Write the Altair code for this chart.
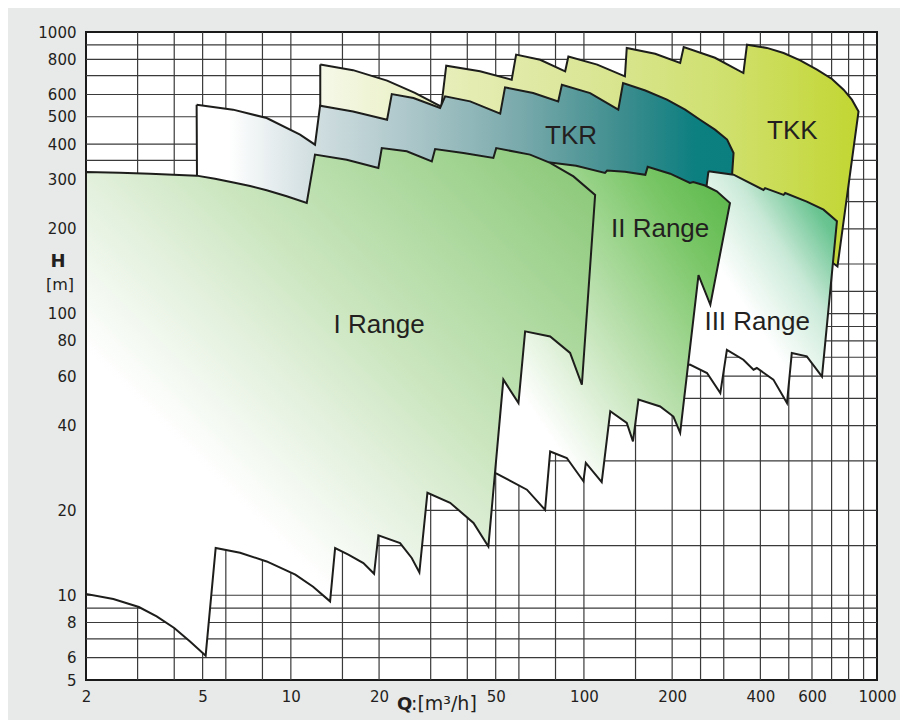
import altair as alt
import pandas as pd

# ---------------- data (Q in m3/h, H in m) ----------------
tkk_q = [12.6, 16.3, 21.3, 26.5, 32.6, 33.9, 44.2, 56.7, 58.7, 70.9, 86.3, 88.5, 111, 138, 140,
         175, 213, 219, 280, 350, 360, 421, 480, 547, 624, 702, 769, 821, 865, 733, 671, 323,
         12.6, 12.6]
tkk_h = [766, 732, 672, 608, 543, 759, 725, 677, 831, 797, 725, 819, 766, 696, 878,
         837, 776, 885, 810, 715, 901, 878, 842, 793, 735, 681, 624, 575, 522, 147, 158, 287,
         469, 766]

tkr_q = [4.77, 6.35, 8.27, 10.75, 12.09, 12.58, 16.3, 21.3, 22.1, 26.2, 32.3, 33.6, 40.9, 51.8,
         53.8, 67.1, 81.7, 84.1, 105, 131, 136, 162, 192, 221.5, 249, 280, 308, 324, 320, 303,
         4.79, 4.77]
tkr_h = [552, 530, 495, 432, 398, 547, 522, 488, 602, 583, 537, 591, 567, 513,
         636, 607, 567, 650, 607, 530, 659, 620, 575, 530, 488, 450, 415, 372, 307, 234,
         225, 552]

r1_q = [2.0, 2.61, 3.31, 4.77, 5.51, 6.37, 7.26, 8.27, 9.68, 11.33, 12.09, 15.51, 19.89, 20.43,
        24.86, 30.27, 31.06, 38.8, 49.1, 50.2, 65.5, 76.7, 92.1, 109.2, 98.4, 89.7, 76.7, 63.0,
        59.8, 53.1, 47.2, 42.0, 34.95, 29.24, 27.45, 25.85, 23.59, 19.89, 19.23, 17.68, 15.71,
        14.16, 13.61, 11.91, 10.36, 8.27, 6.71, 5.54, 5.12, 4.53, 4.00, 3.485, 3.03, 2.479,
        2.0, 2.0]
r1_h = [318, 316.5, 314, 309, 301, 292, 284, 274, 261, 247, 367, 352, 329, 387,
        377, 347, 384, 372, 357, 387, 367, 343, 307, 264, 55.9, 72.5, 83.0, 86.5,
        48.1, 58.3, 14.9, 18.05, 21.3, 23.1, 12.05, 13.56, 15.32, 16.31, 11.92, 13.01, 13.93,
        14.71, 9.51, 10.72, 11.83, 13.18, 14.16, 14.71, 6.10, 6.85, 7.65, 8.41, 9.08, 9.69,
        10.1, 318]

r2_q = [49.8, 49.8, 76.7, 94.1, 118, 120, 138, 162, 165, 197, 230, 236, 259, 284, 315, 270, 246,
        213, 202, 182, 153.5, 147, 140, 123, 115, 101.5, 99.6, 87.4, 76.7, 73.7, 63.9, 49.8]
r2_h = [27.2, 311, 344, 335, 316, 322, 319, 311, 332, 314, 291, 293, 285, 272, 247, 107.5, 137,
        37.7, 43.1, 46.8, 49.5, 35.2, 40.9, 45.0, 25.2, 29.5, 25.4, 30.7, 32.4, 20.1, 23.7, 27.2]

r3_q = [266, 324, 410, 415, 480, 486, 576, 657, 730, 649, 576, 512, 493, 443, 389, 379, 350,
        307.5, 292, 263, 230, 223, 261, 266]
r3_h = [320, 311.5, 275, 279, 264, 268, 250, 234, 213, 59.8, 70.5, 72.5, 48.1, 58.3, 64.1, 63.2,
        68.6, 74.4, 52.2, 61.5, 65.9, 65.3, 275, 320]

grid_q = [3, 4, 5, 6, 8, 10, 15, 20, 30, 40, 50, 60, 80, 100, 150, 200, 250, 300, 400, 500, 600,
          700, 800, 900]
grid_h = [6, 7, 8, 9, 10, 15, 20, 30, 40, 50, 60, 70, 80, 90, 100, 120, 150, 200, 250, 300, 350,
          400, 500, 600, 700, 800, 900]

q_labels = [2, 5, 10, 20, 50, 100, 200, 400, 600, 1000]
h_labels = [5, 6, 8, 10, 20, 40, 60, 80, 100, 200, 300, 400, 500, 600, 800, 1000]

names = ["I Range", "TKR", "TKK", "II Range", "III Range"]
name_q = [20.0, 90.4, 514, 182, 390]
name_h = [91.3, 428, 446, 199, 93.6]

# ---------------- encodings ----------------
LABEL_FONT = "DejaVu Sans"
X = alt.X("q:Q", title=None,
          scale=alt.Scale(type="log", domain=[2, 1000], nice=False),
          axis=alt.Axis(values=q_labels, grid=False, ticks=False, tickSize=0, domain=False,
                        labelFlush=False, labelOverlap=False, format="d", labelFont=LABEL_FONT,
                        labelFontSize=15, labelColor="#231f20", labelPadding=9))
Y = alt.Y("h:Q", title=None,
          scale=alt.Scale(type="log", domain=[5, 1000], nice=False),
          axis=alt.Axis(values=h_labels, grid=False, ticks=False, tickSize=0, domain=False,
                        labelFlush=False, labelOverlap=False, format="d", labelFont=LABEL_FONT,
                        labelFontSize=15, labelColor="#231f20", labelPadding=10))


def grad(stops, x1=0, y1=0, x2=1, y2=0):
    return {"gradient": "linear", "x1": x1, "y1": y1, "x2": x2, "y2": y2,
            "stops": [{"offset": o, "color": c} for o, c in stops]}


def region(q, h, fill):
    df = pd.DataFrame({"q": q, "h": h, "i": list(range(len(q)))})
    return alt.Chart(df).mark_line(fill=fill, stroke="#1d1d1b", strokeWidth=2,
                                   interpolate="linear").encode(
        x=X, y=Y, order=alt.Order("i:Q"))


tkk_fill = grad([(0, "#f5f8e8"), (0.25, "#e6edb6"), (0.5, "#dbe696"), (0.75, "#d0e06e"),
                 (1, "#c2d632")])
tkr_fill = grad([(0, "#ffffff"), (0.06, "#ffffff"), (0.2, "#d5e1e3"), (0.4, "#abc6c9"),
                 (0.6, "#7aaaac"), (0.8, "#3b8c8d"), (0.93, "#0c7f80"), (1, "#0b7e7f")])
r1_fill = grad([(0, "#ffffff"), (0.3, "#ffffff"), (0.45, "#e6f2e1"), (0.6, "#cbe6bf"),
                (0.8, "#a9d79a"), (1, "#86c673")], 0, 1, 1, 0)
r2_fill = grad([(0, "#ffffff"), (0.22, "#ffffff"), (0.5, "#bfe2b3"), (0.8, "#79c666"),
                (1, "#55b545")], 0, 1, 1, 0)
r3_fill = grad([(0, "#ffffff"), (0.4, "#ffffff"), (0.55, "#e0f3e8"), (0.65, "#c9e9d7"),
                (0.85, "#69c491"), (1, "#4cb87c")], 0, 1, 1, 0)

vgrid = alt.Chart(pd.DataFrame({"q": grid_q})).mark_rule(color="#3a3a3a", strokeWidth=1.2).encode(x=X)
hgrid = alt.Chart(pd.DataFrame({"h": grid_h})).mark_rule(color="#3a3a3a", strokeWidth=1.2).encode(y=Y)

labels = alt.Chart(pd.DataFrame({"q": name_q, "h": name_h, "name": names})).mark_text(
    font="Liberation Sans", fontSize=26,
    color="#231f20", baseline="middle", align="center").encode(x=X, y=Y, text="name:N")

h_title = alt.Chart(pd.DataFrame({"t": ["H"]})).mark_text(
    font=LABEL_FONT, fontSize=18, fontWeight="bold", color="#231f20", align="center",
    baseline="middle").encode(x=alt.value(-28), y=alt.value(230), text="t:N")
m_title = alt.Chart(pd.DataFrame({"t": ["[m]"]})).mark_text(
    font=LABEL_FONT, fontSize=16, color="#231f20", align="center",
    baseline="middle").encode(x=alt.value(-26), y=alt.value(253), text="t:N")
q_title = alt.Chart(pd.DataFrame({"t": ["Q"]})).mark_text(
    font=LABEL_FONT, fontSize=18, fontWeight="bold", color="#231f20", align="left",
    baseline="alphabetic").encode(x=alt.value(311), y=alt.value(678), text="t:N")
u_title = alt.Chart(pd.DataFrame({"t": [":[m³/h]"]})).mark_text(
    font=LABEL_FONT, fontSize=19, color="#231f20", align="left",
    baseline="alphabetic").encode(x=alt.value(325), y=alt.value(678), text="t:N")

chart = alt.layer(
    vgrid, hgrid,
    region(tkk_q, tkk_h, tkk_fill),
    region(tkr_q, tkr_h, tkr_fill),
    region(r3_q, r3_h, r3_fill),
    region(r2_q, r2_h, r2_fill),
    region(r1_q, r1_h, r1_fill),
    labels, h_title, m_title, q_title, u_title,
).properties(
    width=791, height=648,
    autosize=alt.AutoSizeParams(type="none"),
    padding={"left": 78, "top": 24, "right": 23, "bottom": 40},
    background="#e8e9e9",
).configure_view(stroke="#1a1a1a", strokeWidth=2, fill="white")

chart.save("out.html", embed_options={"renderer": "svg", "actions": False})
